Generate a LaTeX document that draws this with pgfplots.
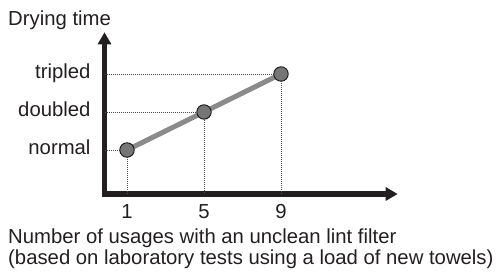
\documentclass[border=0pt]{standalone}
\usepackage{fontspec}
\setmainfont{Liberation Sans}
\usepackage{pgfplots}
\pgfplotsset{compat=1.18}
\usetikzlibrary{arrows.meta}
\definecolor{ink}{RGB}{35,31,32}
\definecolor{linegray}{RGB}{138,138,138}
\definecolor{markgray}{RGB}{118,118,118}
\definecolor{dotgray}{RGB}{80,80,80}
\newcommand{\chartfont}{\fontsize{20.3bp}{21bp}\selectfont}
\begin{document}
\begin{tikzpicture}
\path[use as bounding box] (0,0) rectangle (502bp,272bp);
\begin{axis}[
  at={(104.5bp,78bp)}, anchor=south west,
  scale only axis, width=293.2bp, height=161.7bp,
  xmin=-0.169, xmax=15.06, ymin=-0.158, ymax=4.097,
  axis lines=left,
  axis line style={ink, line width=5.5bp, shorten <=-2.75bp, -{Triangle[width=13bp,length=12bp]}},
  xtick={1,5,9}, ytick={1,2,3}, yticklabels={normal,doubled,tripled},
  major tick length=0pt,
  tick style={draw=none},
  /pgf/number format/assume math mode=true,
  ticklabel style={font=\chartfont, text=ink},
  xticklabel style={anchor=base, inner sep=0pt, yshift=-24.3bp},
  yticklabel style={anchor=base east, inner sep=0pt, xshift=-13.8bp, yshift=-4.5bp},
  xlabel={Number of usages with an unclean lint filter\\(based on laboratory tests using a load of new towels)},
  ylabel={Drying time},
  every axis x label/.style={at={(axis description cs:-0.329,-0.2134)}, anchor=north west, align=left, inner sep=0pt, font=\chartfont, text=ink},
  every axis y label/.style={at={(axis description cs:-0.329,1.045)}, anchor=base west, inner sep=0pt, font=\chartfont, text=ink},
  clip=false,
]
\addplot[dotgray, line width=0.8bp, dash pattern=on 1bp off 1bp, forget plot] coordinates {(-0.169,1) (1,1) (1,-0.158)};
\addplot[dotgray, line width=0.8bp, dash pattern=on 1bp off 1bp, forget plot] coordinates {(-0.169,2) (5,2) (5,-0.158)};
\addplot[dotgray, line width=0.8bp, dash pattern=on 1bp off 1bp, forget plot] coordinates {(-0.169,3) (9,3) (9,-0.158)};
\addplot[linegray, line width=5bp, mark=*, mark size=7.2bp, mark options={fill=markgray, draw=ink, line width=1bp}] coordinates {(1,1) (5,2) (9,3)};
\end{axis}
\end{tikzpicture}
\end{document}
